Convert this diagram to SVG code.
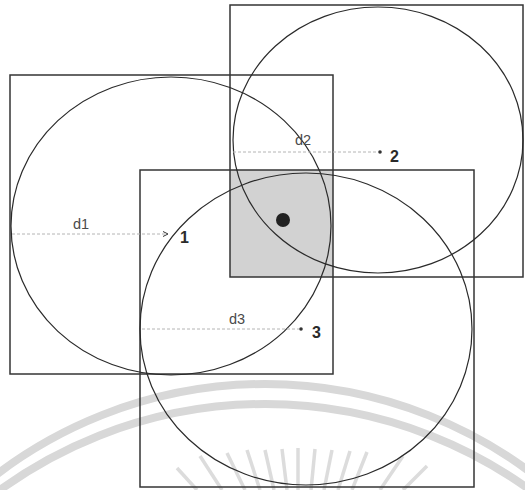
<svg xmlns="http://www.w3.org/2000/svg" width="525" height="490" viewBox="0 0 525 490">
  <style>
    .sq { fill: none; stroke: #353535; stroke-width: 1.5; }
    .cir { fill: none; stroke: #2a2a2a; stroke-width: 1.2; }
    .dist { stroke: #b4b4b4; stroke-width: 1; stroke-dasharray: 3 2; fill: none; }
    .lbl { font-family: "Liberation Sans", Arial, sans-serif; font-size: 14.5px; fill: #4a4a4a; }
    .num { font-family: "Liberation Sans", Arial, sans-serif; font-size: 16px; font-weight: bold; fill: #2a2a2a; }
    .pt { fill: #333; }
    .wm { fill: none; stroke: #d8d8d8; stroke-width: 8; }
    .ray { stroke: #dcdcdc; stroke-width: 3.5; }
  </style>
  <rect width="525" height="490" fill="#ffffff"/>

  <g id="watermark">
    <circle class="wm" cx="265" cy="827" r="443"/>
    <circle class="wm" cx="265" cy="855" r="451"/>
    <g class="ray">
      <line x1="177" y1="468" x2="197" y2="490"/>
      <line x1="200" y1="456" x2="222" y2="490"/>
      <line x1="227" y1="453" x2="245" y2="490"/>
      <line x1="247" y1="450" x2="260" y2="490"/>
      <line x1="265" y1="450" x2="274" y2="490"/>
      <line x1="282" y1="449" x2="287" y2="490"/>
      <line x1="298" y1="448" x2="298" y2="490"/>
      <line x1="315" y1="449" x2="311" y2="490"/>
      <line x1="332" y1="450" x2="324" y2="490"/>
      <line x1="350" y1="451" x2="338" y2="490"/>
      <line x1="367" y1="452" x2="352" y2="490"/>
      <line x1="403" y1="456" x2="380" y2="490"/>
      <line x1="427" y1="466" x2="403" y2="490"/>
    </g>
  </g>

  <g id="intersection">
    <rect x="230" y="170" width="103" height="107" fill="#d2d2d2"/>
  </g>

  <g id="square1"><rect class="sq" x="10" y="75" width="323" height="299"/></g>
  <g id="square2"><rect class="sq" x="230" y="5" width="293" height="272"/></g>
  <g id="square3"><rect class="sq" x="140" y="170" width="334" height="317"/></g>

  <g id="circle1"><ellipse class="cir" cx="171" cy="226" rx="160" ry="149"/></g>
  <g id="circle2"><ellipse class="cir" cx="378" cy="140" rx="145" ry="133"/></g>
  <g id="circle3"><ellipse class="cir" cx="306" cy="329" rx="166" ry="156"/></g>

  <g id="connectors">
    <line class="dist" x1="12" y1="234" x2="166" y2="234"/>
    <path d="M163,231.5 L168,234 L163,236.5" fill="none" stroke="#333" stroke-width="1"/>
    <line class="dist" x1="233" y1="152" x2="378" y2="152"/>
    <line class="dist" x1="142" y1="329" x2="299" y2="329"/>
  </g>

  <g id="point1">
    <text class="lbl" x="73" y="229">d1</text>
    <text class="num" x="180" y="243">1</text>
  </g>
  <g id="point2">
    <circle class="pt" cx="380" cy="152" r="1.8"/>
    <text class="lbl" x="295" y="145">d2</text>
    <text class="num" x="390" y="162">2</text>
  </g>
  <g id="point3">
    <circle class="pt" cx="301" cy="329" r="1.8"/>
    <text class="lbl" x="229" y="324">d3</text>
    <text class="num" x="312" y="338">3</text>
  </g>
  <g id="estimate">
    <circle cx="283" cy="220" r="7" fill="#222"/>
  </g>
</svg>
